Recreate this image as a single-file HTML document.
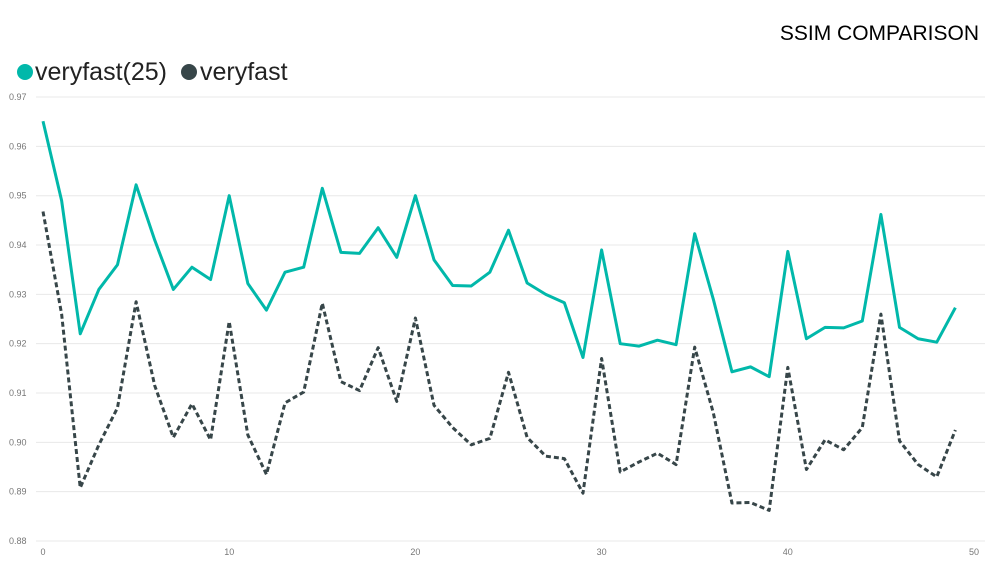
<!DOCTYPE html>
<html><head><meta charset="utf-8">
<style>
html,body{margin:0;padding:0;background:#fff;}
body{width:992px;height:572px;overflow:hidden;font-family:"Liberation Sans",sans-serif;}
</style></head>
<body>
<svg id="chart" width="992" height="572" xmlns="http://www.w3.org/2000/svg">
<text x="979" y="40" text-anchor="end" font-size="21" fill="#000" font-family="Liberation Sans, sans-serif">SSIM COMPARISON</text>
<g>
<circle cx="25" cy="72" r="8" fill="#01b8aa"/>
<text x="35" y="80" font-size="25" fill="#222">veryfast(25)</text>
<circle cx="189" cy="72" r="8" fill="#374649"/>
<text x="200" y="80" font-size="25" fill="#222">veryfast</text>
</g>
<g id="grid"></g>
<g id="yticks"></g>
<g id="xticks"></g>
<g id="series"></g>
</svg>
<script>
const xValues = Array.from({length:50},(_,i)=>i);
const veryfast25 = [0.9651,0.949,0.922,0.931,0.936,0.9522,0.941,0.931,0.9355,0.933,0.950,0.9322,0.9268,0.9345,0.9355,0.9515,0.9385,0.9383,0.9435,0.9375,0.950,0.937,0.9318,0.9317,0.9345,0.943,0.9323,0.930,0.9283,0.9172,0.939,0.920,0.9195,0.9207,0.9198,0.9423,0.929,0.9143,0.9153,0.9133,0.9387,0.921,0.9233,0.9232,0.9246,0.9462,0.9233,0.921,0.9203,0.9273];
const veryfast = [0.9468,0.926,0.8908,0.8995,0.907,0.9285,0.9115,0.901,0.9078,0.9005,0.9245,0.9015,0.8935,0.908,0.9102,0.9282,0.9123,0.9105,0.9192,0.9083,0.9252,0.9075,0.903,0.8995,0.9008,0.9142,0.901,0.8972,0.8967,0.8897,0.917,0.894,0.896,0.8978,0.8955,0.9193,0.906,0.8877,0.8878,0.8862,0.9152,0.8945,0.9005,0.8985,0.903,0.926,0.9003,0.8955,0.893,0.9025];
const yTicks = [0.88,0.89,0.90,0.91,0.92,0.93,0.94,0.95,0.96,0.97];
const xTicks = [0,10,20,30,40,50];

const NS="http://www.w3.org/2000/svg";
const X = v => 43 + v*18.62;
const Y = v => 541 - (v-0.88)*4933;
const grid=document.getElementById('grid'), yt=document.getElementById('yticks'), xt=document.getElementById('xticks'), ser=document.getElementById('series');
yTicks.forEach(t=>{
  const l=document.createElementNS(NS,'line');
  
  
  l.setAttribute('x1',36);l.setAttribute('x2',985);
  l.setAttribute('y1',Y(t));l.setAttribute('y2',Y(t));
  l.setAttribute('stroke','#e8e8e8');l.setAttribute('stroke-width','1');
  grid.appendChild(l);
  const tx=document.createElementNS(NS,'text');
  
  
  tx.setAttribute('x',9);tx.setAttribute('y',Y(t)+3);
  tx.setAttribute('font-size','9');tx.setAttribute('fill','#777');
  tx.textContent=t.toFixed(2);
  yt.appendChild(tx);
});
xTicks.forEach(t=>{
  const tx=document.createElementNS(NS,'text');
  
  
  tx.setAttribute('x',X(t));tx.setAttribute('y',555);
  tx.setAttribute('font-size','9');tx.setAttribute('fill','#777');
  tx.setAttribute('text-anchor','middle');
  tx.textContent=t;
  xt.appendChild(tx);
});
function line(vals,color,dash,name){
  const p=document.createElementNS(NS,'polyline');
  
  
  p.setAttribute('points',vals.map((v,i)=>X(xValues[i])+','+Y(v)).join(' '));
  p.setAttribute('fill','none');p.setAttribute('stroke',color);
  p.setAttribute('stroke-width','3');p.setAttribute('stroke-linejoin','round');
  if(dash)p.setAttribute('stroke-dasharray',dash);
  ser.appendChild(p);
}
line(veryfast25,'#01b8aa',null,'line-veryfast25');
line(veryfast,'#374649','5,3','line-veryfast');
</script>
</body></html>
